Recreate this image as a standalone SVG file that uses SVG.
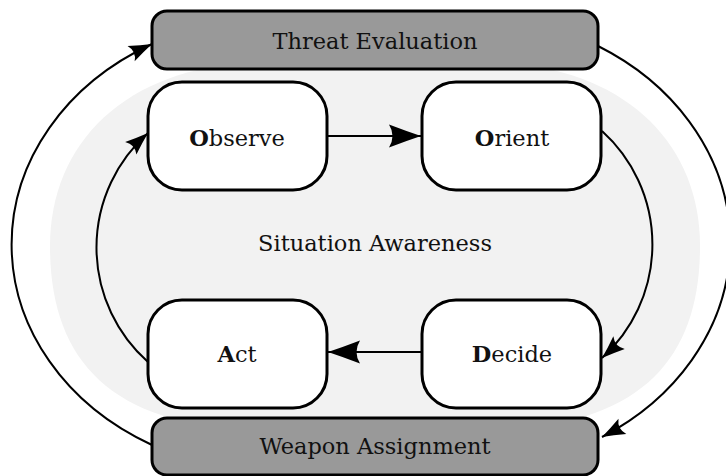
<svg xmlns="http://www.w3.org/2000/svg" width="726" height="476" viewBox="0 0 726 476">
<style>
.box{fill:#ffffff;stroke:#000;stroke-width:3}
.bar{fill:#999999;stroke:#000;stroke-width:3}
.t{font-family:"DejaVu Serif",serif;font-size:22.5px;fill:#111;text-anchor:middle}
.b{font-weight:bold}
.c{fill:none;stroke:#000;stroke-width:2}
</style>
<defs>
<marker id="big" markerUnits="userSpaceOnUse" markerWidth="36" markerHeight="26" viewBox="-34 -13 36 26" refX="0" refY="0" orient="auto">
<path d="M0,0 Q-15,-5 -32,-11.5 Q-25,0 -32,11.5 Q-15,5 0,0 Z" fill="#000"/>
</marker>
<marker id="sm" markerUnits="userSpaceOnUse" markerWidth="26" markerHeight="20" viewBox="-24 -10 26 20" refX="0" refY="0" orient="auto">
<path d="M0,0 Q-11,-3.5 -23,-8.5 Q-17,0 -23,8.5 Q-11,3.5 0,0 Z" fill="#000"/>
</marker>
</defs>
<path id="bg" d="M270,62 H480 C620,62 700,140 700,246 C700,360 640,430 480,430 H270 C110,430 50,360 50,246 C50,140 130,62 270,62 Z" fill="#f2f2f2"/>
<g id="connectors">
<path class="c" d="M152,445 A268,228 0 0 1 152,44" marker-end="url(#sm)"/>
<path class="c" d="M598,46 A268,228 0 0 1 602,437" marker-end="url(#sm)"/>
<path class="c" d="M148,362 A153,153 0 0 1 148,133" marker-end="url(#sm)"/>
<path class="c" d="M602,131 A153,153 0 0 1 602,358" marker-end="url(#sm)"/>
<path class="c" d="M327,136 H421" marker-end="url(#big)"/>
<path class="c" d="M422,352 H328" marker-end="url(#big)"/>
</g>
<g id="threat"><rect class="bar" x="152" y="11" width="446" height="58" rx="15"/><text class="t" x="375" y="49">Threat Evaluation</text></g>
<g id="weapon"><rect class="bar" x="152" y="418" width="446" height="57" rx="15"/><text class="t" x="375" y="454">Weapon Assignment</text></g>
<g id="observe"><rect class="box" x="148" y="82" width="179" height="108" rx="34"/><text class="t" x="237" y="146"><tspan class="b">O</tspan>bserve</text></g>
<g id="orient"><rect class="box" x="422" y="82" width="179" height="108" rx="34"/><text class="t" x="512" y="146"><tspan class="b">O</tspan>rient</text></g>
<g id="act"><rect class="box" x="148" y="300" width="179" height="108" rx="34"/><text class="t" x="237" y="362"><tspan class="b">A</tspan>ct</text></g>
<g id="decide"><rect class="box" x="422" y="300" width="179" height="108" rx="34"/><text class="t" x="512" y="362"><tspan class="b">D</tspan>ecide</text></g>
<g id="sa"><text class="t" x="375" y="251">Situation Awareness</text></g>
</svg>
